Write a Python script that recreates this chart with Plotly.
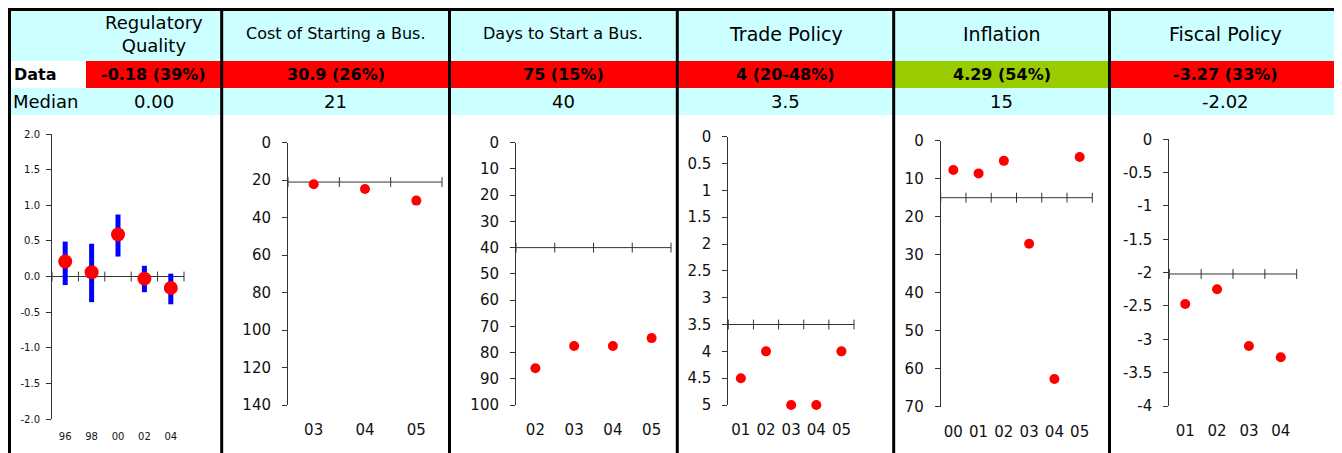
import plotly.graph_objects as go

# The page body has an 8px margin: screen pixel = figure pixel + 8
OX, OY = 8, 8
FW, FH = 1342, 453

# ---------------- data ----------------
titles = ["Regulatory<br>Quality", "Cost of Starting a Bus.", "Days to Start a Bus.",
          "Trade Policy", "Inflation", "Fiscal Policy"]
data_labels = ["-0.18 (39%)", "30.9 (26%)", "75 (15%)", "4 (20-48%)", "4.29 (54%)", "-3.27 (33%)"]
median_labels = ["0.00", "21", "40", "3.5", "15", "-2.02"]
data_colors = ["#FF0000", "#FF0000", "#FF0000", "#FF0000", "#99CC00", "#FF0000"]

rq_years = ["96", "98", "00", "02", "04"]
rq_values = [0.21, 0.06, 0.59, -0.03, -0.16]
rq_low = [-0.12, -0.36, 0.28, -0.22, -0.39]
rq_high = [0.49, 0.46, 0.87, 0.15, 0.04]
rq_median = 0.0

cost_years = ["03", "04", "05"]
cost_values = [22.2, 24.7, 30.9]
cost_median = 21

days_years = ["02", "03", "04", "05"]
days_values = [86, 77.5, 77.5, 74.5]
days_median = 40

trade_years = ["01", "02", "03", "04", "05"]
trade_values = [4.5, 4, 5, 5, 4]
trade_median = 3.5

infl_years = ["00", "01", "02", "03", "04", "05"]
infl_values = [7.7, 8.6, 5.3, 27.1, 62.7, 4.29]
infl_median = 15

fiscal_years = ["01", "02", "03", "04"]
fiscal_values = [-2.47, -2.25, -3.1, -3.27]
fiscal_median = -2.02

rq_ticks = [-2.0, -1.5, -1.0, -0.5, 0.0, 0.5, 1.0, 1.5, 2.0]
cost_ticks = [0, 20, 40, 60, 80, 100, 120, 140]
days_ticks = [0, 10, 20, 30, 40, 50, 60, 70, 80, 90, 100]
trade_ticks = [0, 0.5, 1, 1.5, 2, 2.5, 3, 3.5, 4, 4.5, 5]
infl_ticks = [0, 10, 20, 30, 40, 50, 60, 70]
fiscal_ticks = [0, -0.5, -1, -1.5, -2, -2.5, -3, -3.5, -4]

# ---------------- layout geometry (screen pixels) ----------------
FONT = "DejaVu Sans"
col_edges = [9.5, 221.7, 449.5, 677.3, 893.7, 1109.5, 1340.5]
cell_left = [86, 221.7, 449.5, 677.3, 893.7, 1109.5]


def pxx(x):
    return (x - OX) / FW


def pxy(y):
    return 1 - (y - OY) / FH


# panel plot areas: (x_left, x_right, y_top, y_bottom)
panels = [
    dict(years=rq_years, values=rq_values, median=rq_median, ticks=rq_ticks,
         rng=[-2, 2], fmt=lambda v: f"{v:.1f}", box=(52, 184, 134, 419),
         msize=14, fsize=10, xstand=10, ystand=4),
    dict(years=cost_years, values=cost_values, median=cost_median, ticks=cost_ticks,
         rng=[140, 0], fmt=lambda v: f"{v:g}", box=(288, 442, 142.7, 405),
         msize=10, fsize=15, xstand=14, ystand=8),
    dict(years=days_years, values=days_values, median=days_median, ticks=days_ticks,
         rng=[100, 0], fmt=lambda v: f"{v:g}", box=(516, 671, 142.7, 405),
         msize=10, fsize=15, xstand=14, ystand=8),
    dict(years=trade_years, values=trade_values, median=trade_median, ticks=trade_ticks,
         rng=[5, 0], fmt=lambda v: f"{v:g}", box=(728.3, 854, 136.7, 405),
         msize=10, fsize=15, xstand=14, ystand=8),
    dict(years=infl_years, values=infl_values, median=infl_median, ticks=infl_ticks,
         rng=[70, 0], fmt=lambda v: f"{v:g}", box=(940.7, 1092.3, 140.7, 406.7),
         msize=10, fsize=15, xstand=14, ystand=8),
    dict(years=fiscal_years, values=fiscal_values, median=fiscal_median, ticks=fiscal_ticks,
         rng=[-4, 0], fmt=lambda v: f"{v:g}", box=(1169.3, 1296.7, 139.3, 406),
         msize=10, fsize=15, xstand=14, ystand=8),
]

fig = go.Figure()
layout_axes = {}

for i, p in enumerate(panels):
    k = "" if i == 0 else str(i + 1)
    xa, ya = "x" + k, "y" + k
    n = len(p["years"])
    idx = list(range(n))
    x0, x1, yt, yb = p["box"]

    # median reference line with cross ticks at category boundaries
    fig.add_trace(go.Scatter(
        x=[-0.5, n - 0.5], y=[p["median"], p["median"]], mode="lines",
        line=dict(color="#333333", width=1), xaxis=xa, yaxis=ya,
        hoverinfo="skip", showlegend=False, cliponaxis=False))
    fig.add_trace(go.Scatter(
        x=[b - 0.5 for b in range(n + 1)], y=[p["median"]] * (n + 1), mode="markers",
        marker=dict(symbol="line-ns", size=7, line=dict(color="#333333", width=1)),
        xaxis=xa, yaxis=ya, hoverinfo="skip", showlegend=False, cliponaxis=False))

    kw = {}
    if i == 0:
        kw["error_y"] = dict(type="data", symmetric=False,
                             array=[h - v for h, v in zip(rq_high, rq_values)],
                             arrayminus=[v - l for v, l in zip(rq_values, rq_low)],
                             color="#0000FF", thickness=5, width=0)
    fig.add_trace(go.Scatter(
        x=idx, y=p["values"], mode="markers",
        marker=dict(color="#FF0000", size=p["msize"]),
        xaxis=xa, yaxis=ya, showlegend=False, cliponaxis=False, **kw))

    layout_axes["xaxis" + k] = dict(
        domain=[pxx(x0), pxx(x1)], range=[-0.5, n - 0.5], anchor=ya,
        tickmode="array", tickvals=idx, ticktext=p["years"], ticks="",
        showline=False, showgrid=False, zeroline=False, fixedrange=True,
        automargin=False, ticklabelstandoff=p["xstand"],
        tickfont=dict(family=FONT, size=p["fsize"], color="#111111"))
    layout_axes["yaxis" + k] = dict(
        domain=[pxy(yb), pxy(yt)], range=p["rng"], anchor=xa,
        tickmode="array", tickvals=p["ticks"], ticktext=[p["fmt"](v) for v in p["ticks"]],
        ticks="outside", ticklen=5, tickwidth=1, tickcolor="#333333",
        showline=True, linecolor="#333333", linewidth=1,
        showgrid=False, zeroline=False, fixedrange=True,
        automargin=False, ticklabelstandoff=p["ystand"],
        tickfont=dict(family=FONT, size=p["fsize"], color="#111111"))

# ---------------- table header shapes ----------------
shapes = []


def px_rect(xl, xr, yt, yb, color):
    shapes.append(dict(type="rect", xref="paper", yref="paper", layer="below",
                       x0=pxx(xl), x1=pxx(xr), y0=pxy(yb), y1=pxy(yt),
                       fillcolor=color, line=dict(width=0)))


def px_line(xa_, ya_, xb_, yb_, w=3):
    shapes.append(dict(type="line", xref="paper", yref="paper", layer="above",
                       x0=pxx(xa_), x1=pxx(xb_), y0=pxy(ya_), y1=pxy(yb_),
                       line=dict(color="#000000", width=w)))


px_rect(9, 1340, 10, 61, "#CCFFFF")
px_rect(9, 1340, 88, 115, "#CCFFFF")
for j in range(6):
    px_rect(cell_left[j], col_edges[j + 1], 61, 88, data_colors[j])

px_line(8, 9.5, 1342, 9.5)
for xe in col_edges:
    px_line(xe, 8, xe, 453)

annotations = []


def px_text(x, y, text, size, bold=False, xanchor="center"):
    annotations.append(dict(xref="paper", yref="paper", x=pxx(x), y=pxy(y),
                            text=f"<b>{text}</b>" if bold else text, showarrow=False,
                            xanchor=xanchor, yanchor="middle",
                            font=dict(family=FONT, size=size, color="#000000")))


title_sizes = [18, 16, 16, 19, 19, 19]
for j in range(6):
    cx = (cell_left[j] + col_edges[j + 1]) / 2
    px_text(cx, 34, titles[j], title_sizes[j])
    px_text(cx, 74.5, data_labels[j], 16, bold=True)
    px_text(cx, 101.5, median_labels[j], 18)

px_text(12, 74.5, "Data", 16, bold=True, xanchor="left")
px_text(11, 101.5, "Median", 18, xanchor="left")

fig.update_layout(
    width=FW, height=FH, margin=dict(l=0, r=0, t=0, b=0, autoexpand=False),
    paper_bgcolor="#FFFFFF", plot_bgcolor="rgba(0,0,0,0)",
    shapes=shapes, annotations=annotations, showlegend=False,
    **layout_axes)

fig.write_html("out.html")
